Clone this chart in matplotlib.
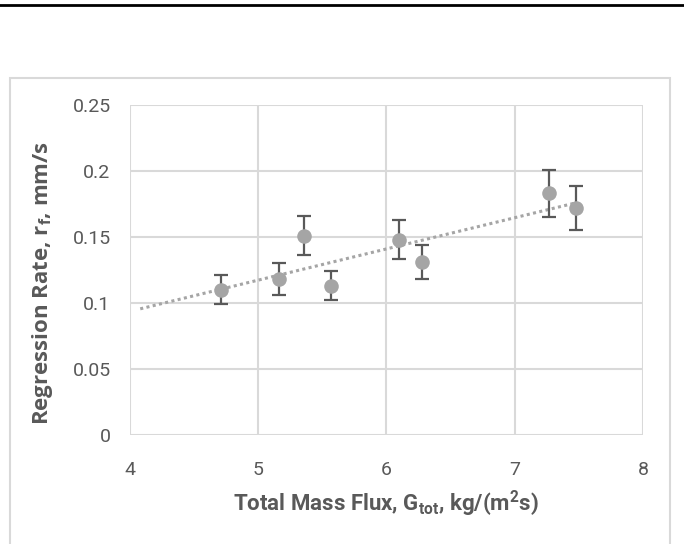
import numpy as np
import matplotlib
matplotlib.use("Agg")
import matplotlib.pyplot as plt
from matplotlib.patches import Rectangle
from matplotlib.lines import Line2D

# data
mass_flux = [4.71, 5.16, 5.36, 5.57, 6.10, 6.28, 7.27, 7.48]
regr_rate = [0.110, 0.118, 0.151, 0.113, 0.148, 0.131, 0.183, 0.172]
regr_err = [0.011, 0.012, 0.015, 0.011, 0.015, 0.013, 0.018, 0.017]
trend_x = [4.08, 7.48]

x_ticks = [4, 5, 6, 7, 8]
y_ticks = [0, 0.05, 0.1, 0.15, 0.2, 0.25]
y_labels = ["0", "0.05", "0.1", "0.15", "0.2", "0.25"]

TXT = "#595959"
GRID = "#d9d9d9"
MARK = "#a5a5a5"

plt.rcParams["mathtext.fontset"] = "custom"
plt.rcParams["mathtext.rm"] = "Roboto:bold"
plt.rcParams["mathtext.bf"] = "Roboto:bold"
plt.rcParams["mathtext.it"] = "Open Sans:bold"

fig = plt.figure(figsize=(6.84, 5.44), dpi=100)
ax = fig.add_axes([0.190, 0.2004, 0.750, 0.6066])

# black rule at the very top and the light chart border
fig.add_artist(Line2D([0, 1], [0.991, 0.991], color="black", lw=2,
                      transform=fig.transFigure))
fig.add_artist(Rectangle((0.0146, -0.02), 0.965, 0.877, fill=False,
                         edgecolor=GRID, lw=1.5, transform=fig.transFigure))

coef = np.polyfit(mass_flux, regr_rate, 1)
tx = np.array(trend_x)
ax.plot(tx, np.polyval(coef, tx), color=MARK, lw=2.2, ls=(0, (1, 1.1)), zorder=2)

ax.errorbar(mass_flux, regr_rate, yerr=regr_err, fmt="none", ecolor=TXT,
            elinewidth=1.6, capsize=5, capthick=1.6, zorder=3)
ax.plot(mass_flux, regr_rate, ls="none", marker="o", ms=10.5, color=MARK,
        mec="none", zorder=4)

ax.set_xlim(4, 8)
ax.set_ylim(0, 0.25)
ax.set_xticks(x_ticks)
ax.set_yticks(y_ticks)
ax.set_yticklabels(y_labels)
ax.grid(True, color=GRID, lw=1.5)
ax.set_axisbelow(True)
for s in ax.spines.values():
    s.set_visible(False)
ax.tick_params(length=0, labelsize=14, labelcolor=TXT)
ax.tick_params(axis="x", pad=19)
ax.tick_params(axis="y", pad=14)
for lab in ax.get_xticklabels() + ax.get_yticklabels():
    lab.set_fontfamily(["Roboto", "DejaVu Sans"])

ax.set_xlabel(r"Total Mass Flux, G$_{\mathbf{tot}}$, kg/(m$^{\mathbf{2}}$s)",
              fontsize=16, fontweight="bold", color=TXT,
              family=["Roboto", "DejaVu Sans"], labelpad=7)
ax.set_ylabel(r"Regression Rate, r$_{\mathit{f}}$, mm/s", fontsize=16,
              fontweight="bold", color=TXT, family=["Open Sans", "DejaVu Sans"],
              va="center")
ax.yaxis.set_label_coords(-0.17, 0.46)

fig.savefig("out.png", dpi=100)
